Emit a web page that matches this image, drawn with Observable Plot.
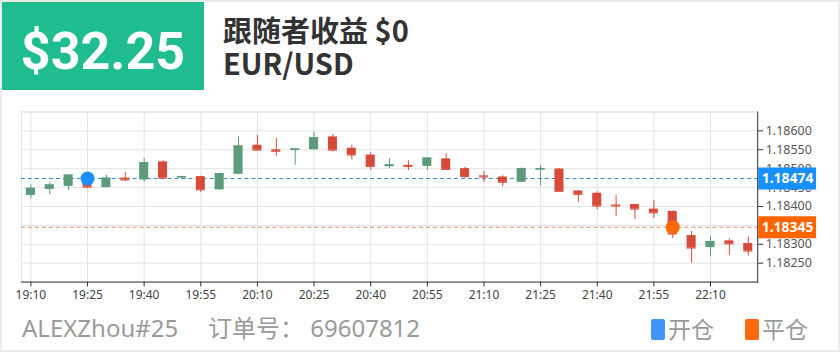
<!DOCTYPE html>
<html><head><meta charset="utf-8">
<script src="https://cdn.jsdelivr.net/npm/d3@7"></script>
<script src="https://cdn.jsdelivr.net/npm/@observablehq/plot@0.6"></script>
<style>
html,body{margin:0;padding:0;background:#fff;}
#card{position:relative;width:840px;height:352px;box-sizing:border-box;border:2px solid #ebebeb;overflow:hidden;font-family:"Noto Sans","Noto Sans CJK SC",sans-serif;background:#fff;}
#badge{position:absolute;left:0;top:0;width:202px;height:88px;background:#1fbc8f;}
#badge span{position:absolute;left:0;right:0;top:24px;text-align:center;color:#fff;font-family:Roboto,sans-serif;font-weight:700;font-size:52px;line-height:1;}
.hd{position:absolute;left:221px;font-family:"Noto Sans CJK SC",sans-serif;font-weight:700;font-size:29px;line-height:1;color:#333;white-space:nowrap;}
#chart{position:absolute;left:-2px;top:98px;}
.ft{position:absolute;top:314px;font-size:24px;line-height:1;color:#9a9a9a;white-space:nowrap;}
.sq{position:absolute;top:317px;width:14px;height:21px;border-radius:2px;}
.lg{position:absolute;top:315px;font-family:"Noto Sans CJK SC",sans-serif;font-size:23px;line-height:1;color:#9a9a9a;}
</style></head><body>
<div id="card">
  <div id="badge"><span>$32.25</span></div>
  <div class="hd" style="top:13px">跟随者收益 $0</div>
  <div class="hd" style="top:46px">EUR/USD</div>
  <div id="chart"></div>
  <div class="ft" style="left:20px">ALEXZhou#25</div>
  <div class="ft" style="left:206px">订单号： 69607812</div>
  <div class="sq" style="left:649px;background:#3f96f6"></div>
  <div class="lg" style="left:666px">开仓</div>
  <div class="sq" style="left:743px;background:#ff6a10"></div>
  <div class="lg" style="left:760px">平仓</div>
</div>
<script>
const times = ["19:10","19:15","19:20","19:25","19:30","19:35","19:40","19:45","19:50","19:55",
  "20:00","20:05","20:10","20:15","20:20","20:25","20:30","20:35","20:40","20:45",
  "20:50","20:55","21:00","21:05","21:10","21:15","21:20","21:25","21:30","21:35",
  "21:40","21:45","21:50","21:55","22:00","22:05","22:10","22:15","22:20"];
const open  = [1.18429,1.18445,1.18453,1.18476,1.18450,1.18475,1.18470,1.18518,1.18475,1.18479,
  1.18444,1.18485,1.18562,1.18550,1.18548,1.18550,1.18584,1.18554,1.18536,1.18505,
  1.18509,1.18506,1.18526,1.18500,1.18481,1.18478,1.18464,1.18496,1.18499,1.18441,
  1.18435,1.18404,1.18405,1.18393,1.18387,1.18323,1.18291,1.18309,1.18302];
const high  = [1.18457,1.18464,1.18484,1.18484,1.18483,1.18490,1.18527,1.18521,1.18480,1.18480,
  1.18488,1.18584,1.18588,1.18580,1.18553,1.18597,1.18590,1.18562,1.18542,1.18526,
  1.18521,1.18529,1.18539,1.18504,1.18492,1.18481,1.18502,1.18508,1.18500,1.18442,
  1.18439,1.18429,1.18406,1.18416,1.18388,1.18334,1.18321,1.18314,1.18319];
const low   = [1.18420,1.18431,1.18442,1.18447,1.18449,1.18467,1.18464,1.18474,1.18470,1.18437,
  1.18443,1.18484,1.18548,1.18532,1.18509,1.18549,1.18544,1.18523,1.18496,1.18500,
  1.18495,1.18495,1.18497,1.18474,1.18464,1.18452,1.18463,1.18454,1.18439,1.18411,
  1.18392,1.18374,1.18365,1.18369,1.18315,1.18250,1.18267,1.18270,1.18269];
const close = [1.18448,1.18457,1.18483,1.18451,1.18475,1.18470,1.18516,1.18475,1.18479,1.18444,
  1.18487,1.18560,1.18549,1.18546,1.18552,1.18582,1.18549,1.18536,1.18506,1.18510,
  1.18506,1.18528,1.18498,1.18479,1.18478,1.18464,1.18500,1.18500,1.18440,1.18432,
  1.18401,1.18401,1.18393,1.18383,1.18327,1.18290,1.18307,1.18301,1.18282];
const xTicks = ["19:10","19:25","19:40","19:55","20:10","20:25","20:40","20:55","21:10","21:25","21:40","21:55","22:10"];
const yTicks = [1.1825,1.183,1.1835,1.184,1.1845,1.185,1.1855,1.186];
const yGrid = [1.1825,1.183,1.1835,1.184,1.1845,1.185,1.1855,1.186,1.1865];
const openTrade = [{time:"19:25", price:1.18474}];
const closeTrade = [{time:"22:00", price:1.18345}];

const UP = "#5e9b7d", DOWN = "#d74a3a";
const candles = times.map((t,i)=>({time:t, open:open[i], high:high[i], low:low[i], close:close[i]}));
const col = d => d.close >= d.open ? UP : DOWN;
const fmt = d3.format(".5f");

const chart = Plot.plot({
  width: 840, height: 210,
  marginLeft: 21, marginRight: 81, marginTop: 11.5, marginBottom: 28,
  style: {fontFamily: '"Noto Sans", sans-serif', fontSize: "12px", background: "transparent", overflow: "visible"},
  x: {type: "band", domain: times, paddingInner: 0.52, paddingOuter: 0.26, align: 0.5},
  y: {domain: [1.182, 1.1865]},
  marks: [
    Plot.gridY(yGrid, {stroke: "#e4e4e4", strokeOpacity: 1}),
    Plot.gridX(xTicks, {stroke: "#e4e4e4", strokeOpacity: 1}),
    Plot.frame({stroke: "#e4e4e4"}),
    Plot.ruleY(openTrade, {y: "price", stroke: "#2e8fd2", strokeDasharray: "4,3"}),
    Plot.ruleY(closeTrade, {y: "price", stroke: "#ec8a5c", strokeDasharray: "4,3"}),
    Plot.ruleX(candles, {x: "time", y1: "low", y2: "high", stroke: col}),
    Plot.barY(candles, {x: "time", y1: "open", y2: "close", fill: col}),
    Plot.tickY(candles, {x: "time", y: "close", stroke: col}),
    Plot.dot(openTrade, {x: "time", y: "price", r: 7, fill: "#1890ff"}),
    Plot.dot(closeTrade, {x: "time", y: "price", r: 7, fill: "#ff6a00"}),
    Plot.frame({anchor: "right", stroke: "#333"}),
    Plot.frame({anchor: "bottom", stroke: "#333"}),
    Plot.axisX(xTicks, {label: null, tickSize: 5, tickPadding: 3, stroke: "#333", fill: "#444", fontSize: 12}),
    Plot.axisY(yTicks, {label: null, anchor: "right", tickSize: 5, tickPadding: 3, tickFormat: fmt, stroke: "#333", fill: "#555", fontSize: 12.5}),
    Plot.ruleY(openTrade, {y: "price", stroke: "#1890ff", strokeWidth: 22, insetLeft: 739, insetRight: -59}),
    Plot.ruleY(closeTrade, {y: "price", stroke: "#ff6400", strokeWidth: 22, insetLeft: 739, insetRight: -59}),
    Plot.text(openTrade, {y: "price", text: d => fmt(d.price), frameAnchor: "right", dx: 30, textAnchor: "middle", fill: "#fff", fontWeight: "bold", fontSize: 14}),
    Plot.text(closeTrade, {y: "price", text: d => fmt(d.price), frameAnchor: "right", dx: 30, textAnchor: "middle", fill: "#fff", fontWeight: "bold", fontSize: 14})
  ]
});
document.getElementById("chart").appendChild(chart);
</script>
</body></html>
